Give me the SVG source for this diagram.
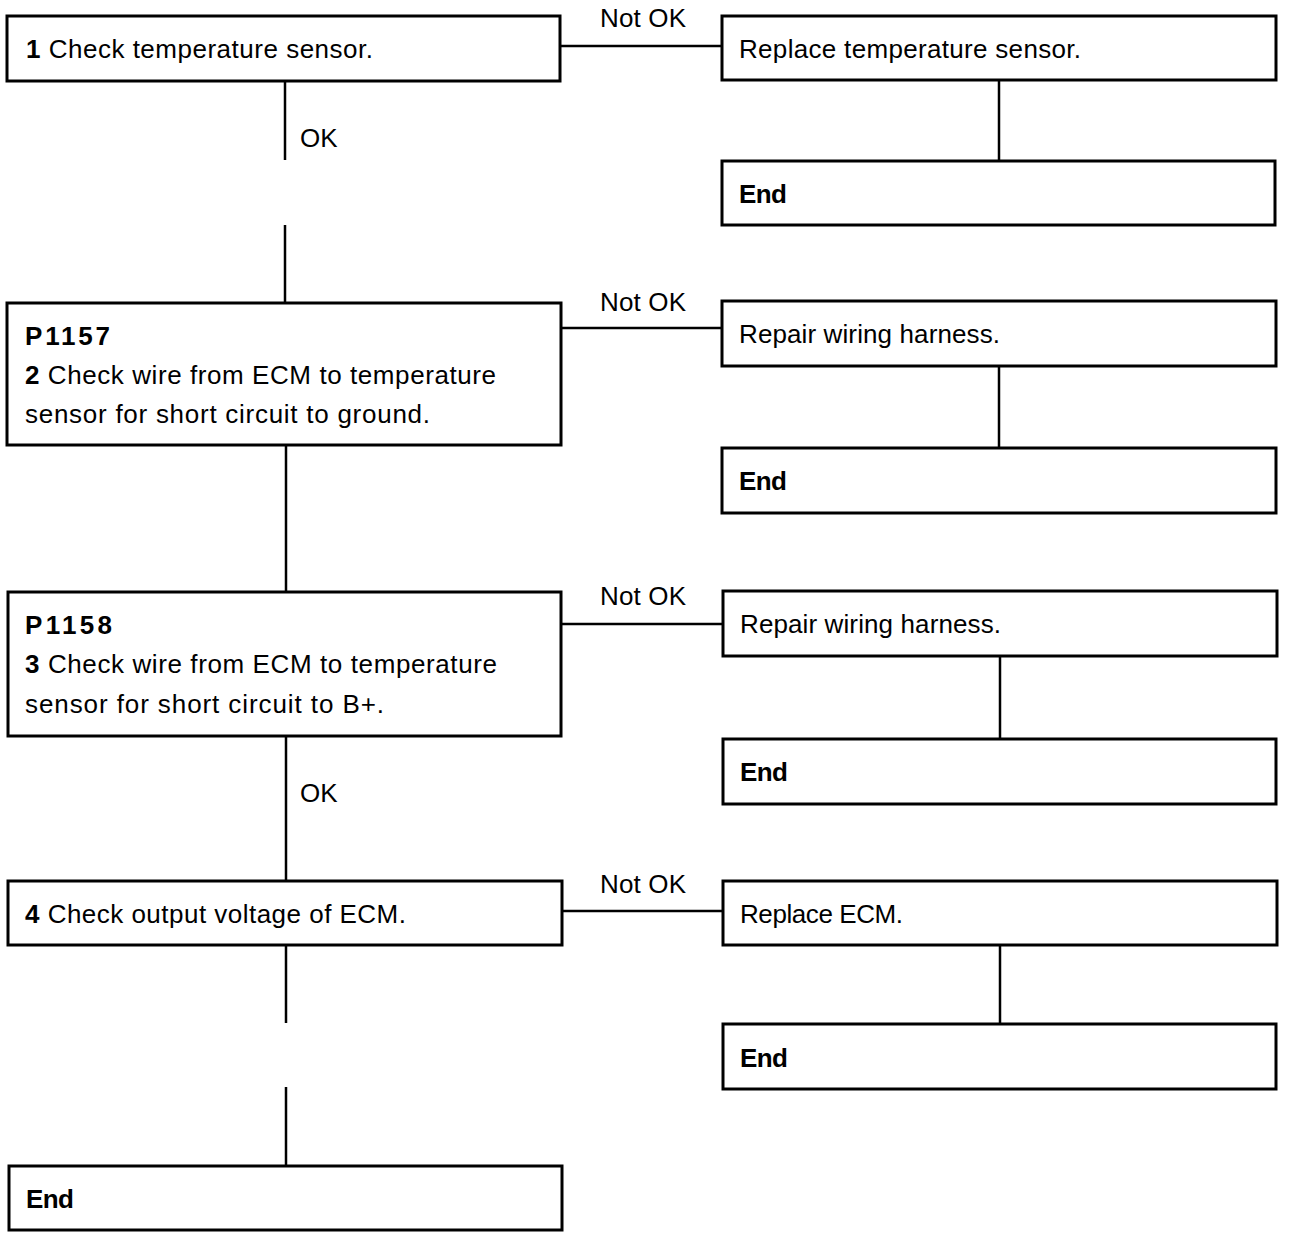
<svg xmlns="http://www.w3.org/2000/svg" width="1296" height="1240" viewBox="0 0 1296 1240">
<style>
rect.b{fill:#fff;stroke:#000;stroke-width:3}
.c line{stroke:#000;stroke-width:2.5}
text{font-family:"Liberation Sans",Arial,sans-serif;font-size:26px;fill:#000}
.bd{font-weight:bold}
</style>
<rect width="1296" height="1240" fill="#fff"/>
<g class="c" id="connectors">
<line x1="560" y1="46" x2="721" y2="46"/>
<line x1="285" y1="81" x2="285" y2="160"/>
<line x1="285" y1="225" x2="285" y2="302"/>
<line x1="999" y1="80" x2="999" y2="160"/>
<line x1="561" y1="328" x2="721" y2="328"/>
<line x1="999" y1="366" x2="999" y2="447"/>
<line x1="286" y1="445" x2="286" y2="591"/>
<line x1="561" y1="624" x2="722" y2="624"/>
<line x1="1000" y1="656" x2="1000" y2="738"/>
<line x1="286" y1="736" x2="286" y2="880"/>
<line x1="562" y1="911" x2="722" y2="911"/>
<line x1="1000" y1="945" x2="1000" y2="1023"/>
<line x1="286" y1="945" x2="286" y2="1023"/>
<line x1="286" y1="1087" x2="286" y2="1165"/>
<text x="600" y="27" textLength="86">Not OK</text>
<text x="300" y="147">OK</text>
<text x="600" y="311" textLength="86">Not OK</text>
<text x="600" y="605" textLength="86">Not OK</text>
<text x="300" y="802">OK</text>
<text x="600" y="893" textLength="86">Not OK</text>
</g>
<g id="n1"><rect class="b" x="7" y="16" width="553" height="65"/><text x="26" y="58" textLength="347"><tspan class="bd">1</tspan> Check temperature sensor.</text></g>
<g id="r1"><rect class="b" x="722" y="16" width="554" height="64"/><text x="739" y="58" textLength="342">Replace temperature sensor.</text></g>
<g id="e1"><rect class="b" x="722" y="161" width="553" height="64"/><text class="bd" x="739" y="203" textLength="48">End</text></g>
<g id="n2"><rect class="b" x="7" y="303" width="554" height="142"/><text class="bd" x="25" y="345" textLength="85">P1157</text><text x="25" y="384" textLength="471"><tspan class="bd">2</tspan> Check wire from ECM to temperature</text><text x="25" y="423" textLength="405">sensor for short circuit to ground.</text></g>
<g id="r2"><rect class="b" x="722" y="301" width="554" height="65"/><text x="739" y="343" textLength="261">Repair wiring harness.</text></g>
<g id="e2"><rect class="b" x="722" y="448" width="554" height="65"/><text class="bd" x="739" y="490" textLength="48">End</text></g>
<g id="n3"><rect class="b" x="8" y="592" width="553" height="144"/><text class="bd" x="25" y="634" textLength="87">P1158</text><text x="25" y="673" textLength="472"><tspan class="bd">3</tspan> Check wire from ECM to temperature</text><text x="25" y="713" textLength="359">sensor for short circuit to B+.</text></g>
<g id="r3"><rect class="b" x="723" y="591" width="554" height="65"/><text x="740" y="633" textLength="261">Repair wiring harness.</text></g>
<g id="e3"><rect class="b" x="723" y="739" width="553" height="65"/><text class="bd" x="740" y="781" textLength="48">End</text></g>
<g id="n4"><rect class="b" x="8" y="881" width="554" height="64"/><text x="25" y="923" textLength="381"><tspan class="bd">4</tspan> Check output voltage of ECM.</text></g>
<g id="r4"><rect class="b" x="723" y="881" width="554" height="64"/><text x="740" y="923" textLength="163">Replace ECM.</text></g>
<g id="e4"><rect class="b" x="723" y="1024" width="553" height="65"/><text class="bd" x="740" y="1067" textLength="48">End</text></g>
<g id="e5"><rect class="b" x="9" y="1166" width="553" height="64"/><text class="bd" x="26" y="1208" textLength="48">End</text></g>
</svg>
